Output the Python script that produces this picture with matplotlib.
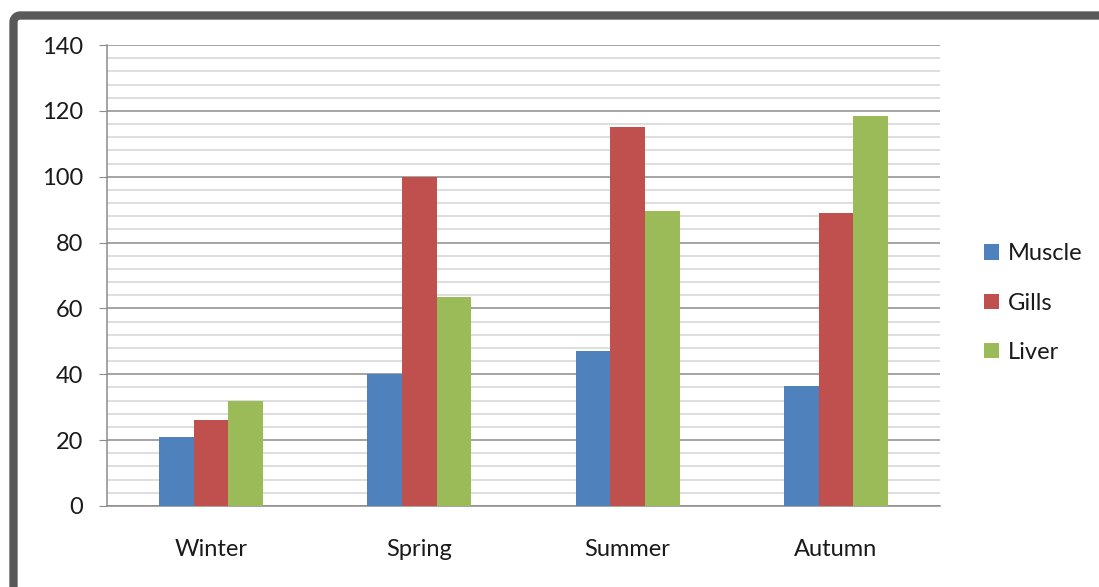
import numpy as np
import matplotlib
matplotlib.use("Agg")
from matplotlib import pyplot as plt
from matplotlib.lines import Line2D

seasons = ["Winter", "Spring", "Summer", "Autumn"]
muscle = [21, 40, 47, 36.5]
gills = [26, 100, 115, 89]
liver = [32, 63.5, 89.5, 118.5]
series = ["Muscle", "Gills", "Liver"]
colors = ["#4f81bd", "#c0504d", "#9bbb59"]

plt.rcParams["font.family"] = ["Lato", "DejaVu Sans"]

fig = plt.figure(figsize=(10.99, 5.87), dpi=100)
ax = fig.add_axes([107 / 1099, 1 - 506 / 587, 833 / 1099, 461 / 587])

x = np.arange(len(seasons))
w = 1 / 6
for i, (name, vals) in enumerate(zip(series, [muscle, gills, liver])):
    ax.bar(x + (i - 1) * w, vals, width=w, color=colors[i], label=name, zorder=3)

ax.set_xlim(-0.5, 3.5)
ax.set_ylim(0, 140)
ax.set_yticks(np.arange(0, 141, 20))
ax.set_yticks(np.arange(0, 141, 4), minor=True)
ax.set_xticks(x)
ax.set_xticklabels(seasons)
ax.grid(axis="y", which="major", color="#8c8c8c", lw=1.1, zorder=1)
ax.grid(axis="y", which="minor", color="#d4d4d4", lw=1.1, zorder=1)
for s in ["top", "right"]:
    ax.spines[s].set_visible(False)
for s in ["left", "bottom"]:
    ax.spines[s].set_color("#8c8c8c")
    ax.spines[s].set_linewidth(1.1)
ax.tick_params(axis="y", which="major", length=6, color="#8c8c8c", labelsize=17, pad=11, labelcolor="#1a1a1a")
ax.tick_params(axis="y", which="minor", length=0)
ax.tick_params(axis="x", length=0, labelsize=17, pad=24, labelcolor="#1a1a1a")

leg = ax.legend(loc="center left", bbox_to_anchor=(984 / 1099, 1 - 303 / 587), bbox_transform=fig.transFigure,
                frameon=False, fontsize=17, handlelength=0.62, handleheight=0.62, handletextpad=0.4,
                labelspacing=1.2, borderaxespad=0, borderpad=0)
for txt in leg.get_texts():
    txt.set_color("#1a1a1a")

# dark frame (top and left edges only, rounded corner) around the chart area
fx, fy = 13.5 / 1099, 1 - 15.5 / 587
fr = 0.006
kw = dict(transform=fig.transFigure, color="#595959", lw=6, solid_capstyle="butt")
t = np.linspace(0, np.pi / 2, 20)
cx, cy = fx + fr, fy - fr * 1099 / 587
fig.add_artist(Line2D(np.r_[fx, fx, cx - fr * np.cos(t), 1.05],
                      np.r_[-0.05, cy, cy + fr * 1099 / 587 * np.sin(t), fy], **kw))

fig.savefig("out.png", dpi=100)
